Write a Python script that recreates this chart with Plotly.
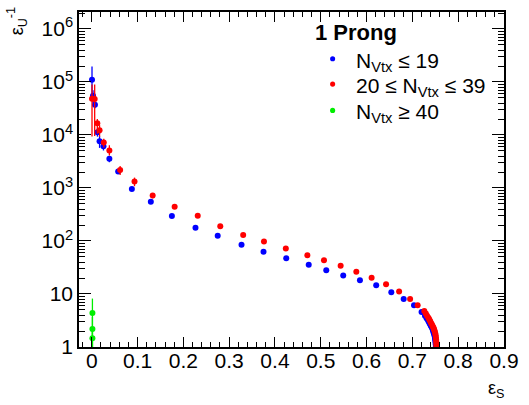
import plotly.graph_objects as go

# ---- data ----
blue_x = [0.0006, 0.0028, 0.007, 0.0125, 0.0171, 0.0256, 0.0385, 0.0577, 0.0876,
          0.129, 0.175, 0.2265, 0.275, 0.327, 0.375, 0.4246, 0.4737, 0.512, 0.549,
          0.5855, 0.621, 0.654, 0.681, 0.7036, 0.720, 0.7275,
          0.731, 0.734, 0.736, 0.738, 0.740, 0.742, 0.744, 0.745, 0.746, 0.747,
          0.748, 0.749, 0.7495, 0.750, 0.7505, 0.751, 0.7512]
blue_y = [1.1e5, 5.5e4, 3.7e4, 1.13e4, 7.6e3, 6.1e3, 3.56e3, 2.05e3, 960,
          548, 296, 178, 125, 84.5, 62.4, 47.4, 35.6, 28.2, 22.4,
          18.1, 14.6, 10.8, 8.06, 6.14, 4.59, 3.9,
          3.5, 3.2, 2.95, 2.75, 2.55, 2.35, 2.18, 2.05, 1.92, 1.8,
          1.68, 1.56, 1.45, 1.34, 1.23, 1.13, 1.04]
blue_ep = [0.85e5, 1.5e4, 5e3, 2e3, 1.9e3, 1e3, 450, 200, 80,
           40, 20, 10, 6, 4, 3, 2, 1.5, 1, 0.8,
           0.6, 0.5, 0.4, 0.3, 0.2, 0.15, 0.1] + [0.05] * 17
blue_em = [5e4, 1.5e4, 5e3, 2e3, 1.9e3, 1e3, 500, 200, 80,
           40, 20, 10, 6, 4, 3, 2, 1.5, 1, 0.8,
           0.6, 0.5, 0.4, 0.3, 0.2, 0.15, 0.1] + [0.05] * 17

red_x = [0.0006, 0.0064, 0.0122, 0.0171, 0.0263, 0.0385, 0.062, 0.0934,
         0.133, 0.181, 0.2314, 0.2806, 0.3306, 0.376, 0.4237, 0.4707, 0.507,
         0.5434, 0.5776, 0.611, 0.6425, 0.671, 0.695, 0.7115, 0.726,
         0.7293, 0.732, 0.735, 0.737, 0.739, 0.741, 0.743, 0.745, 0.746, 0.747,
         0.748, 0.749, 0.750, 0.7507, 0.7513, 0.7517, 0.752, 0.7522, 0.7523]
red_y = [4.84e4, 4.76e4, 1.66e4, 1.23e4, 7.2e3, 5.1e3, 2.19e3, 1.32e3,
         720, 442, 300, 189, 130, 97.5, 72, 54, 43.4,
         34.1, 26.3, 20.3, 15.2, 11.1, 8.06, 6.14, 4.8,
         4.3, 3.9, 3.55, 3.3, 3.05, 2.82, 2.62, 2.42, 2.3, 2.18,
         2.06, 1.94, 1.8, 1.66, 1.52, 1.4, 1.28, 1.16, 1.05]
red_ep = [4.1e4, 4.2e4, 3.5e3, 3e3, 1.3e3, 1.3e3, 420, 250,
          80, 40, 20, 12, 8, 5, 4, 3, 2,
          1.5, 1, 0.8, 0.6, 0.5, 0.3, 0.2, 0.15] + [0.05] * 19
red_em = [3.9e4, 3.8e4, 6e3, 3e3, 1.4e3, 1e3, 440, 240,
          80, 40, 20, 12, 8, 5, 4, 3, 2,
          1.5, 1, 0.8, 0.6, 0.5, 0.3, 0.2, 0.15] + [0.05] * 19

green_x = [0.0015, 0.0015, 0.0015]
green_y = [4.4, 2.18, 1.47]
green_ep = [3.8, 1.5, 0.8]
green_em = [3.4, 1.2, 0.5]

series_names = ["N<sub>Vtx</sub> ≤ 19", "20 ≤ N<sub>Vtx</sub> ≤ 39", "N<sub>Vtx</sub> ≥ 40"]
series_colors = ["#0000ff", "#ff0000", "#00ee00"]
legend_title = "<b>1 Prong</b>"

y_tickvals = [1, 10, 100, 1000, 1e4, 1e5, 1e6]
y_ticktext = ["1", "10", "10<sup>2</sup>", "10<sup>3</sup>", "10<sup>4</sup>",
              "10<sup>5</sup>", "10<sup>6</sup>"]
y_minor = [m * 10 ** e for e in range(0, 7) for m in range(2, 10)]
x_tickvals = [0, 0.1, 0.2, 0.3, 0.4, 0.5, 0.6, 0.7, 0.8, 0.9]
x_ticktext = ["0", "0.1", "0.2", "0.3", "0.4", "0.5", "0.6", "0.7", "0.8", "0.9"]

FONT = "Liberation Sans, Arial, sans-serif"

# plot frame in pixels
W, H = 529, 405
L, R, T, B = 79, 16, 10, 58
PW, PH = W - L - R, H - T - B


def px(xp):
    return (xp - L) / PW


def py(yp):
    return (H - B - yp) / PH


fig = go.Figure()


def add(x, y, ep, em, color, name):
    fig.add_trace(go.Scatter(
        x=x, y=y, mode="markers", name=name, showlegend=False,
        marker=dict(color=color, size=6, line=dict(width=0)),
        error_y=dict(type="data", array=ep, arrayminus=em, symmetric=False,
                     color=color, thickness=1.3, width=0),
    ))


add(blue_x, blue_y, blue_ep, blue_em, series_colors[0], series_names[0])
add(red_x, red_y, red_ep, red_em, series_colors[1], series_names[1])
add(green_x, green_y, green_ep, green_em, series_colors[2], series_names[2])

fig.update_layout(
    width=W, height=H,
    margin=dict(l=L, r=R, t=T, b=B),
    paper_bgcolor="white", plot_bgcolor="white",
    font=dict(family=FONT, size=21, color="black"),
    showlegend=False,
    xaxis=dict(
        range=[-0.0278, 0.9], showgrid=False, zeroline=False,
        tickvals=x_tickvals, ticktext=x_ticktext,
        ticks="inside", ticklen=10, tickwidth=1, tickcolor="black",
        showline=True, linecolor="black", linewidth=1.5, mirror="ticks",
        tickfont=dict(size=21), ticklabelstandoff=-6,
        minor=dict(dtick=0.02, tick0=0, ticks="inside", ticklen=5,
                   tickcolor="black", showgrid=False),
    ),
    yaxis=dict(
        type="log", range=[0, 6.32], showgrid=False, zeroline=False,
        tickvals=y_tickvals, ticktext=y_ticktext,
        ticks="inside", ticklen=12, tickwidth=1, tickcolor="black",
        showline=True, linecolor="black", linewidth=1.5, mirror="ticks",
        tickfont=dict(size=21),
        minor=dict(tickvals=y_minor, ticks="inside", ticklen=6,
                   tickcolor="black", showgrid=False),
    ),
)

# legend (drawn manually for ROOT-like spacing)
fig.add_annotation(xref="paper", yref="paper", x=px(319), y=py(31),
                   xanchor="left", yanchor="middle", showarrow=False,
                   text=legend_title, font=dict(size=22), borderpad=0)
legend_rows = [57, 82.5, 109]
for yc, name, col in zip(legend_rows, series_names, series_colors):
    r = 2.6
    fig.add_shape(type="circle", xref="paper", yref="paper",
                  x0=px(338 - r), x1=px(338 + r), y0=py(yc + r), y1=py(yc - r),
                  fillcolor=col, line=dict(width=0))
    fig.add_annotation(xref="paper", yref="paper", x=px(361), y=py(yc + 3),
                       xanchor="left", yanchor="middle", showarrow=False,
                       text=name, font=dict(size=21), borderpad=0)

fig.add_annotation(xref="paper", yref="paper", x=px(505), y=py(390),
                   xanchor="center", yanchor="middle", showarrow=False,
                   text="ε<sub>S</sub>", font=dict(size=18))
fig.add_annotation(xref="paper", yref="paper", x=px(15), y=py(3),
                   xanchor="center", yanchor="top", showarrow=False,
                   textangle=-90, text="ε<sub>U</sub><sup>-1</sup>",
                   font=dict(size=18))

fig.write_html("out.html")
